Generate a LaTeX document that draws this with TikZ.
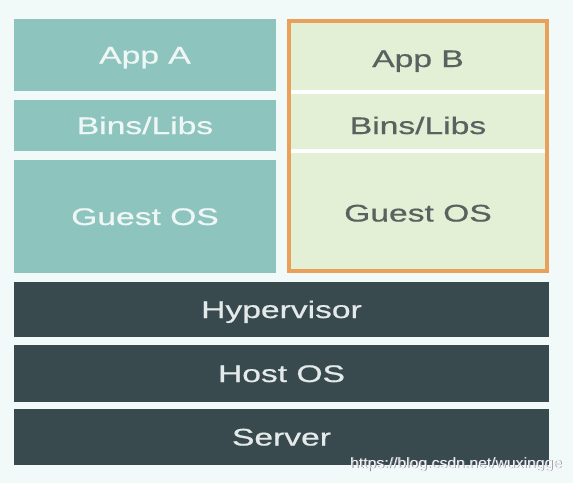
\documentclass[tikz,border=0pt]{standalone}
\usepackage{fontspec}
\setmainfont{Liberation Sans}
\newfontfamily\lblfont[FakeBold=0.6]{Liberation Sans}
\definecolor{bgc}{HTML}{F2F9F9}
\definecolor{tealc}{HTML}{8EC4BE}
\definecolor{tealtxt}{HTML}{EEF7F5}
\definecolor{darkc}{HTML}{394A4F}
\definecolor{darktxt}{HTML}{E4EAEA}
\definecolor{greenc}{HTML}{E3F0D5}
\definecolor{greentxt}{HTML}{5A6260}
\definecolor{orangec}{HTML}{E9A05A}
\newcommand{\lbl}[1]{\scalebox{1.4}[1]{\lblfont\fontsize{24}{28}\selectfont #1}}
\tikzset{
  x=1pt, y=-1pt,
  seg/.style={inner sep=0pt, outer sep=0pt, draw=none, text height=17pt, text depth=0pt},
  tealbox/.style={seg, fill=tealc, text=tealtxt, minimum width=262pt},
  greenbox/.style={seg, fill=greenc, text=greentxt, minimum width=254pt},
  darkbar/.style={seg, fill=darkc, text=darktxt, minimum width=535pt},
  divider/.style={white, line width=4pt},
}
\begin{document}
\begin{tikzpicture}
\fill[bgc] (0,0) rectangle (573,483);
\useasboundingbox (0,0) rectangle (573,483);
% left column
\node[tealbox, minimum height=72pt] (appa) at (145,55) {\lbl{App A}};
\node[tealbox, minimum height=51pt] (binsa) at (145,125.5) {\lbl{Bins/Libs}};
\node[tealbox, minimum height=113pt] (guesta) at (145,216.5) {\lbl{Guest OS}};
% right column
\fill[greenc] (289,21) rectangle (547,271);
\node[greenbox, minimum height=71pt] (appb) at (418,58.5) {\lbl{App B}};
\node[greenbox, minimum height=55pt] (binsb) at (418,125.5) {\lbl{Bins/Libs}};
\node[greenbox, minimum height=112pt] (guestb) at (418,213) {\lbl{Guest OS}};
\draw[divider] ([yshift=2pt]appb.south west) -- ([yshift=2pt]appb.south east);
\draw[divider] ([yshift=2pt]binsb.south west) -- ([yshift=2pt]binsb.south east);
\node[seg, draw=orangec, line width=4pt, minimum width=258pt, minimum height=250pt] (vmb) at (418,146) {};
% bottom bars
\node[darkbar, minimum height=55pt] (hyp) at (281.5,309.5) {\lbl{Hypervisor}};
\node[darkbar, minimum height=57pt] (host) at (281.5,373.5) {\lbl{Host OS}};
\node[darkbar, minimum height=56pt] (server) at (281.5,437) {\lbl{Server}};
% watermark
\node[inner sep=0pt, text=black!45, anchor=base west] (wmshadow) at (350.8,468.8) {\scalebox{1.05}[1]{\fontsize{15}{18}\selectfont https://blog.csdn.net/wuxingge}};
\node[inner sep=0pt, text=white!96!blue, anchor=base west] (wm) at (350,468) {\scalebox{1.05}[1]{\fontsize{15}{18}\selectfont https://blog.csdn.net/wuxingge}};
\end{tikzpicture}
\end{document}
